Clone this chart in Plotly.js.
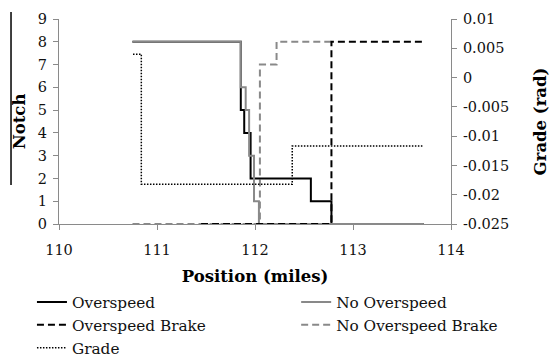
<!DOCTYPE html>
<html>
<head>
<meta charset="utf-8">
<script src="https://cdn.plot.ly/plotly-3.0.1.min.js"></script>
<style>html,body{margin:0;padding:0;background:#fff}#chart{width:552px;height:360px}</style>
</head>
<body>
<div id="chart"></div>
<script>
// Position (miles) / notch step data
var overspeedPos   = [110.75, 111.855, 111.89, 111.955, 112.57, 112.78, 113.72];
var overspeedNotch = [8, 5, 4, 2, 1, 0, 0];

var noOverspeedPos   = [110.75, 111.855, 111.905, 111.94, 111.99, 112.04, 113.72];
var noOverspeedNotch = [8, 6, 5, 3, 1, 0, 0];

var overspeedBrakePos   = [111.45, 112.78, 113.72];
var overspeedBrakeNotch = [0, 8, 8];

var noOverspeedBrakePos   = [110.75, 112.05, 112.22, 112.78];
var noOverspeedBrakeNotch = [0, 7, 8, 8];

var gradePos = [110.755, 110.84, 112.38, 113.72];
var gradeRad = [0.004, -0.0182, -0.0117, -0.0117];

var gradeTickVals = [0.01, 0.005, 0, -0.005, -0.01, -0.015, -0.02, -0.025];
var gradeTickText = ["0.01", "0.005", "0", "-0.005", "-0.01", "-0.015", "-0.02", "-0.025"];

var BLACK = '#000000', GRAY = '#898989', AXIS = '#8a8a8a';
var FONT = 'DejaVu Serif';

var traces = [
  {name: 'No Overspeed Brake', x: noOverspeedBrakePos, y: noOverspeedBrakeNotch, mode: 'lines',
   line: {shape: 'hv', color: GRAY, width: 2, dash: '7px,4px'}, legend: 'legend2', legendrank: 2},
  {name: 'Overspeed', x: overspeedPos, y: overspeedNotch, mode: 'lines',
   line: {shape: 'hv', color: BLACK, width: 2}, legend: 'legend', legendrank: 1},
  {name: 'No Overspeed', x: noOverspeedPos, y: noOverspeedNotch, mode: 'lines',
   line: {shape: 'hv', color: GRAY, width: 2}, legend: 'legend2', legendrank: 1},
  {name: 'Overspeed Brake', x: overspeedBrakePos, y: overspeedBrakeNotch, mode: 'lines',
   line: {shape: 'hv', color: BLACK, width: 2, dash: '7px,4px'}, legend: 'legend', legendrank: 2},
  {name: 'Grade', x: gradePos, y: gradeRad, yaxis: 'y2', mode: 'lines',
   line: {shape: 'hv', color: BLACK, width: 1.5, dash: '1.5px,1.5px'}, legend: 'legend', legendrank: 3}
];

var legendCommon = {
  orientation: 'v', xanchor: 'left', yanchor: 'top', bgcolor: 'rgba(0,0,0,0)',
  font: {family: FONT, size: 15.3, color: '#111'}, itemwidth: 30, traceorder: 'normal',
  itemclick: false, itemdoubleclick: false
};

var layout = {
  width: 552, height: 360,
  margin: {l: 59, r: 101, t: 19, b: 136, pad: 0, autoexpand: false},
  paper_bgcolor: '#fff', plot_bgcolor: '#fff',
  font: {family: FONT, size: 14.5, color: '#111'},
  showlegend: true,
  xaxis: {
    range: [110, 114], dtick: 1, tick0: 110, showgrid: false, zeroline: false,
    showline: true, linecolor: AXIS, linewidth: 1, ticks: 'outside', ticklen: 5, tickcolor: AXIS,
    tickfont: {family: FONT, size: 14.5, color: '#111'}, automargin: false, ticklabelstandoff: 8,
    title: {text: 'Position (miles)', font: {family: FONT, size: 16.5, color: '#000', weight: 'bold'}, standoff: 13}
  },
  yaxis: {
    range: [0, 9], dtick: 1, tick0: 0, showgrid: false, zeroline: false,
    showline: true, linecolor: AXIS, linewidth: 1, ticks: 'outside', ticklen: 5, tickcolor: AXIS,
    tickfont: {family: FONT, size: 14.5, color: '#111'}, automargin: false, ticklabelstandoff: 3,
    title: {text: 'Notch', font: {family: FONT, size: 16.5, color: '#000', weight: 'bold'}, standoff: 8}
  },
  yaxis2: {
    overlaying: 'y', side: 'right', range: [-0.025, 0.01],
    tickmode: 'array', tickvals: gradeTickVals, ticktext: gradeTickText,
    showgrid: false, zeroline: false, automargin: false,
    showline: true, linecolor: AXIS, linewidth: 1, ticks: 'outside', ticklen: 5, tickcolor: AXIS,
    tickfont: {family: FONT, size: 14.5, color: '#111'}, ticklabelstandoff: 3,
    title: {text: 'Grade (rad)', font: {family: FONT, size: 16.5, color: '#000', weight: 'bold'}, standoff: 26}
  },
  legend: Object.assign({}, legendCommon, {x: -0.069, y: -0.30}),
  legend2: Object.assign({}, legendCommon, {x: 0.605, y: -0.30}),
  shapes: [
    {type: 'line', xref: 'paper', yref: 'paper', x0: -0.1224, x1: -0.1224, y0: 1.034, y1: 0.19,
     line: {color: '#000', width: 1.5}}
  ]
};

Plotly.newPlot('chart', traces, layout, {staticPlot: true, displayModeBar: false});
</script>
</body>
</html>
